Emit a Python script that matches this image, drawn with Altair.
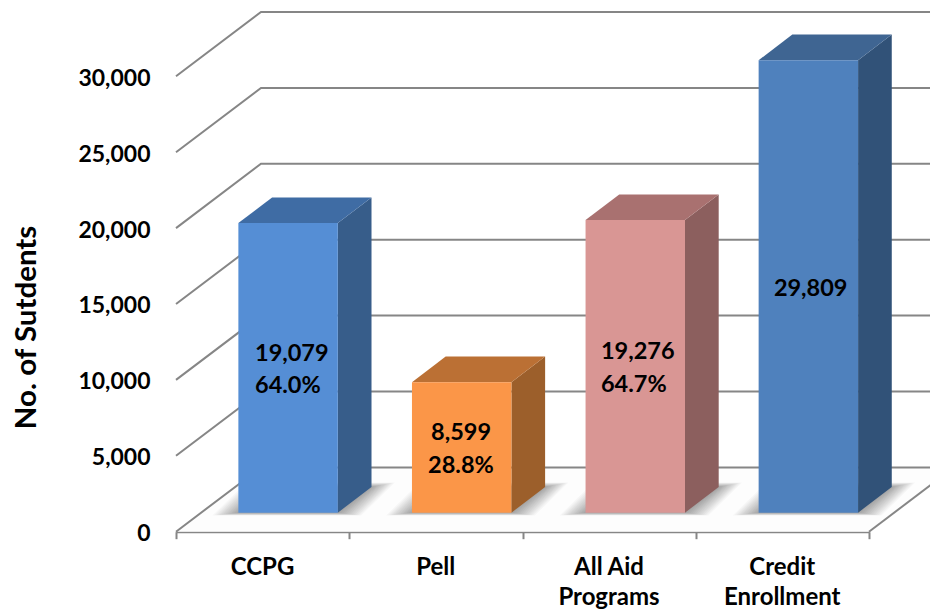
import json
import altair as alt
import pandas as pd

categories = ["CCPG", "Pell", "All Aid", "Credit"]
tick_label_lines = [["CCPG"], ["Pell"], ["All Aid", "Programs"], ["Credit", "Enrollment"], [""]]
values = [19079, 8599, 19276, 29809]
front_colors = ["#558ED5", "#FB9648", "#D99694", "#4F81BD"]
side_colors = ["#375D8A", "#9C5F2B", "#8C5F5E", "#315278"]
top_colors = ["#3F6CA4", "#BB7034", "#A97170", "#3F6592"]
bar_starts = [0.36, 1.362, 2.364, 3.363]
y_ticks = [0, 5000, 10000, 15000, 20000, 25000, 30000]
x_ticks = [0, 1, 2, 3, 4]

label_text = ["19,079", "64.0%", "8,599", "28.8%", "19,276", "64.7%", "29,809"]
label_x = [0.456, 0.456, 1.472, 1.455, 2.453, 2.453, 3.451]
label_y = [11705, 9595, 6505, 4325, 11835, 9665, 15985]

# 3-D projection, in data units
BAR_W, BAR_DX, BAR_DY, BAR_BASE = 0.574, 0.1945, 1693, 1252
WALL_DX, WALL_DY = 0.4906, 4236
XMAX_DRAW = 4.5
GRID = "#868686"
FONT = "Lato"

xs = alt.Scale(domain=[0, 4], nice=False, zero=False)
ys = alt.Scale(domain=[0, 34500], nice=False, zero=False)

x_axis = alt.Axis(
    values=x_ticks, title=None, grid=False,
    domainColor=GRID, domainWidth=2, tickColor=GRID, tickWidth=2, tickSize=7,
    labelOffset=86, labelPadding=17, labelFont=FONT, labelFontSize=24,
    labelFontWeight="bold", labelColor="#000000", labelLineHeight=30,
    labelAngle=0, labelFlush=False, labelBound=False, labelOverlap=False,
    labelExpr=json.dumps(tick_label_lines) + "[datum.value]",
)
y_axis = alt.Axis(
    values=y_ticks, grid=False, domain=False, ticks=False,
    labelExpr="format(datum.value, ',')", labelOffset=2,
    labelPadding=26, labelFont=FONT, labelFontSize=23, labelFontWeight="bold",
    labelColor="#000000", title="No. of Sutdents", titleFont=FONT, titleFontSize=29.5,
    titleFontWeight="bold", titleColor="#000000", titleX=-141, titleY=319,
    titleAngle=270, titleBaseline="alphabetic",
)


def X(f="x"):
    return alt.X(f"{f}:Q", scale=xs, axis=x_axis, title=None)


def Y(f="y"):
    return alt.Y(f"{f}:Q", scale=ys, axis=y_axis, title="No. of Sutdents", stack=None)


# floor
floor = pd.DataFrame({"y": [0, WALL_DY], "x": [0, WALL_DX], "x2": [4, 4 + WALL_DX]})
floor_layer = alt.Chart(floor).mark_area(orient="horizontal", fill="#FDFDFD").encode(
    y=Y(), x=X(), x2="x2:Q",
)

# grid lines on the side and back walls
g_rows = []
for v in y_ticks:
    g_rows += [{"g": v, "x": 0, "y": v}, {"g": v, "x": WALL_DX, "y": v + WALL_DY}, {"g": v, "x": XMAX_DRAW, "y": v + WALL_DY}]
grid_layer = alt.Chart(pd.DataFrame(g_rows)).mark_line(color=GRID, strokeWidth=2, clip=False, interpolate="linear").encode(
    x=X(), detail="g:N", order="x:Q", y=Y(),
)
edge = pd.DataFrame({"g": [0, 0], "x": [4, 4 + WALL_DX], "y": [0, WALL_DY]})
edge_layer = alt.Chart(edge).mark_line(color=GRID, strokeWidth=2).encode(x=X(), y=Y())

# soft shadows on the floor
s_rows = []
LEVELS = 14
for i, x0 in enumerate(bar_starts):
    for k in range(LEVELS):
        s = (k + 1) / LEVELS
        g = f"{i}-{k}"
        l, r = 0.15 * s, 0.135 * s
        low, up = 190 * s, 300 * s
        s_rows.append({"g": g, "y": BAR_BASE - low, "x": x0 - l, "x2": x0 + BAR_W + r})
        s_rows.append({"g": g, "y": BAR_BASE + BAR_DY + up, "x": x0 + BAR_DX - l, "x2": x0 + BAR_W + BAR_DX + r})
shadow_layer = alt.Chart(pd.DataFrame(s_rows)).mark_area(
    orient="horizontal", fill="#000000", fillOpacity=0.026
).encode(y=Y(), x=X(), x2="x2:Q", detail="g:N")

# bars
side_rows, top_rows, front_rows = [], [], []
for cat, v, x0, fc, sc, tc in zip(categories, values, bar_starts, front_colors, side_colors, top_colors):
    b = BAR_BASE
    t = BAR_BASE + v
    x1 = x0 + BAR_W
    side_rows += [
        {"cat": cat, "x": x1, "y": t, "y2": b, "c": sc},
        {"cat": cat, "x": x1 + BAR_DX, "y": t + BAR_DY, "y2": b + BAR_DY, "c": sc},
    ]
    top_rows += [
        {"cat": cat, "y": t, "x": x0, "x2": x1, "c": tc},
        {"cat": cat, "y": t + BAR_DY, "x": x0 + BAR_DX, "x2": x1 + BAR_DX, "c": tc},
    ]
    front_rows.append({"cat": cat, "x": x0, "x2": x1, "y": t, "y2": b, "c": fc})

side_layer = alt.Chart(pd.DataFrame(side_rows)).mark_area(orient="vertical").encode(
    x=X(), y=Y(), y2="y2:Q", fill=alt.Fill("c:N", scale=None), detail="cat:N"
)
top_layer = alt.Chart(pd.DataFrame(top_rows)).mark_area(orient="horizontal").encode(
    y=Y(), x=X(), x2="x2:Q", fill=alt.Fill("c:N", scale=None), detail="cat:N"
)
front_layer = alt.Chart(pd.DataFrame(front_rows)).mark_rect().encode(
    x=X(), x2="x2:Q", y=Y(), y2="y2:Q", fill=alt.Fill("c:N", scale=None)
)

labels = pd.DataFrame({"t": label_text, "x": label_x, "y": label_y})
label_layer = alt.Chart(labels).mark_text(
    align="left", baseline="middle", font=FONT, fontSize=23.5, fontWeight="bold", color="#000000"
).encode(x=X(), y=Y(), text="t:N")

chart = alt.layer(
    floor_layer, grid_layer, edge_layer, shadow_layer,
    side_layer, top_layer, front_layer, label_layer,
).properties(
    width=693, height=523.7,
    padding={"left": 168, "top": 0, "right": 61, "bottom": 78},
    autosize=alt.AutoSizeParams(type="none"),
    background="#FFFFFF",
).configure_view(stroke=None)

chart.save("out.html", embed_options={"renderer": "svg", "actions": False})
